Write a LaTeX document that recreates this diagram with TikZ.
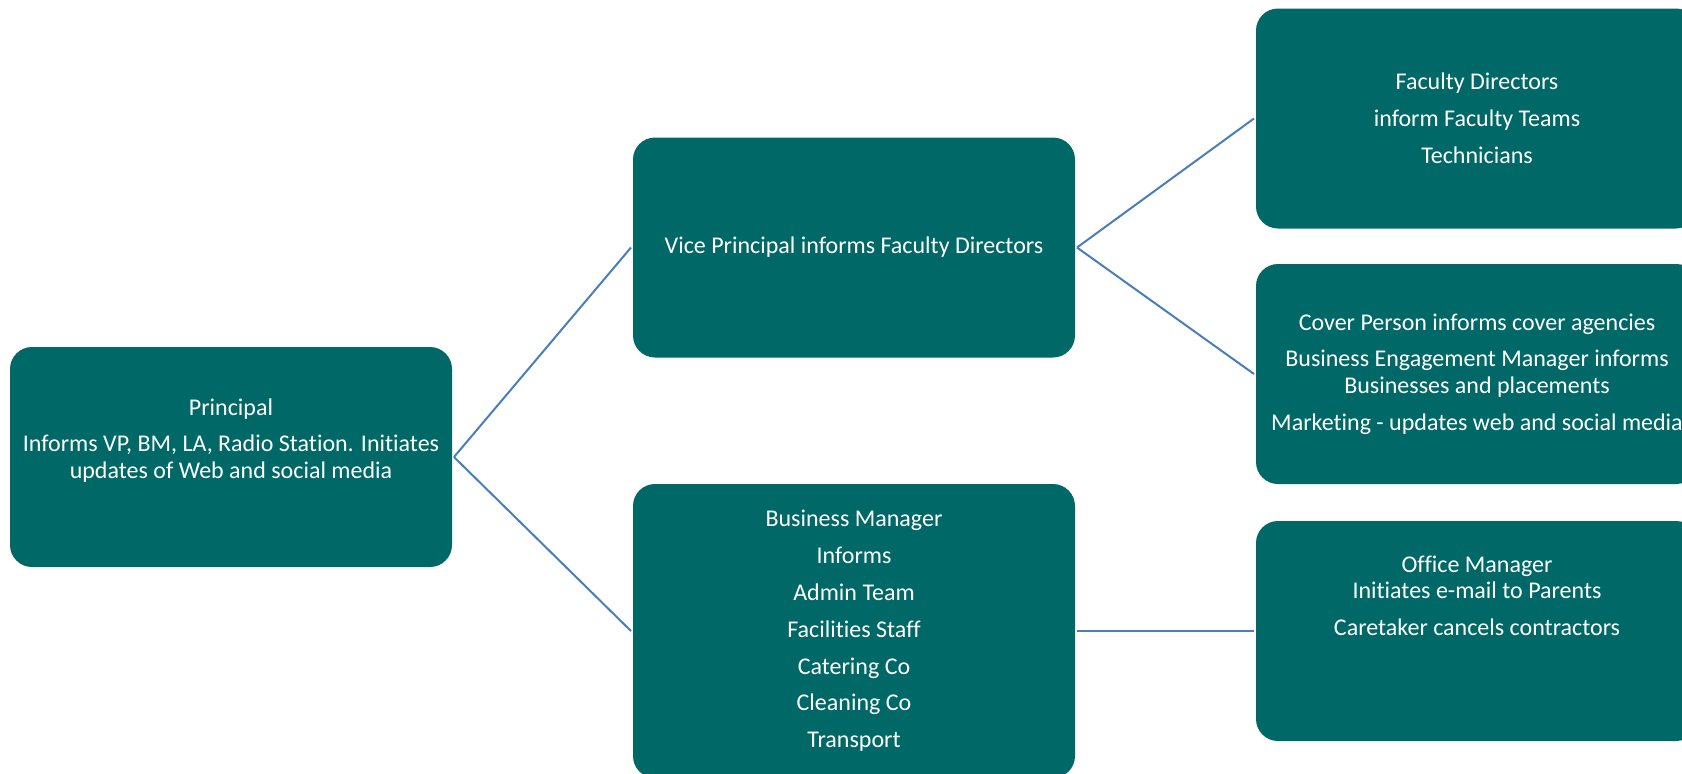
\documentclass[tikz,border=0pt]{standalone}
\usepackage{fontspec}
\setmainfont{Carlito}[Ligatures=NoCommon]
\usepackage{xcolor}
\usetikzlibrary{positioning, calc}

\definecolor{boxteal}{RGB}{0,104,102}
\definecolor{linkblue}{RGB}{74,126,187}

\begin{document}
\begin{tikzpicture}[x=0.5pt,y=-0.5pt,
    box/.style={rectangle, rounded corners=11pt, fill=boxteal, text=white, align=center,
      minimum width=221pt, minimum height=110pt, inner sep=0pt, outer sep=1pt,
      font=\fontsize{12pt}{13.4pt}\selectfont},
    link/.style={draw=linkblue, line width=1pt}]
    \clip (0,0) rectangle (1682,773);

    % left column
    \node[box] (P) at (231,457) {Principal\\[5pt]Informs VP, BM, LA, Radio Station. Initiates\\updates of Web and social media\\[5pt]\mbox{}};

    % middle column
    \node[box] (VP) at (854,247.5) {Vice Principal informs Faculty Directors};
    \node[box, minimum height=147pt] (BM) at (854,631) {Business Manager\\[5pt]Informs\\[5pt]Admin Team\\[5pt]Facilities Staff\\[5pt]Catering Co\\[5pt]Cleaning Co\\[5pt]Transport};

    % right column
    \node[box] (FD) at (1477,118.5) {Faculty Directors\\[5pt]inform Faculty Teams\\[5pt]Technicians};
    \node[box] (CP) at (1477,374) {Cover Person informs cover agencies\\[5pt]Business Engagement Manager informs\\Businesses and placements\\[5pt]Marketing - updates web and social media};
    \node[box] (OM) at (1477,631) {Office Manager\\Initiates e-mail to Parents\\[5pt]Caretaker cancels contractors\\[22pt]\mbox{}};

    \draw[link] (P.east) -- (VP.west);
    \draw[link] (P.east) -- (BM.west);
    \draw[link] (VP.east) -- (FD.west);
    \draw[link] (VP.east) -- (CP.west);
    \draw[link] (BM.east) -- (OM.west);
\end{tikzpicture}
\end{document}
